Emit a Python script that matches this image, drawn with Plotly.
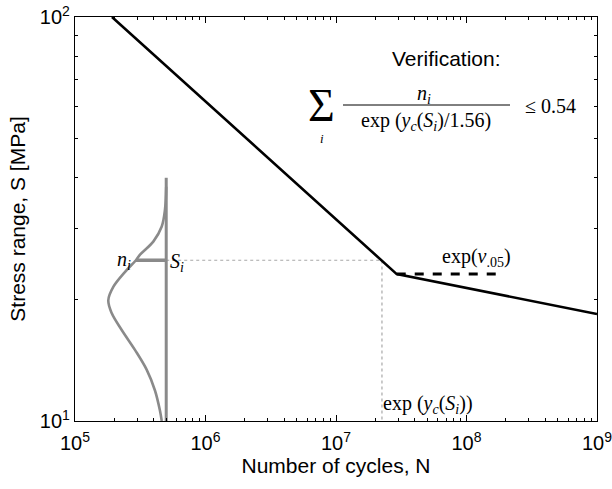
import math
import plotly.graph_objects as go

# ---- data ----
curve_N = [1.92e5, 2.92e7, 1e9]
curve_S = [100, 23.1, 18.4]

dashed_N = [2.92e7, 1.9e8]
dashed_S = [23.1, 23.1]

S_i = 25.0
N_i = 2.25e7
N_block = 5e5
block_S = [10, 40]
n_i_N = 2.93e5

bell_N = [5.0e5, 4.89e5, 4.62e5, 3.98e5, 3.15e5, 2.93e5, 2.42e5, 1.97e5, 1.80e5,
          1.91e5, 2.28e5, 2.88e5, 3.54e5, 4.10e5, 4.48e5, 4.62e5]
bell_S = [38.0, 33.3, 30.3, 27.8, 25.8, 25.0, 23.4, 21.5, 19.9,
          18.5, 16.8, 15.0, 13.4, 11.9, 10.6, 10.0]

x_major = [1e5, 1e6, 1e7, 1e8, 1e9]
x_major_text = ["10<sup>5</sup>", "10<sup>6</sup>", "10<sup>7</sup>", "10<sup>8</sup>", "10<sup>9</sup>"]
y_major = [10, 100]
y_major_text = ["10<sup>1</sup>", "10<sup>2</sup>"]
x_minor = [m * 10 ** e for e in range(5, 9) for m in range(2, 10)]
y_minor = [m * 10 for m in range(2, 10)]

GRAY = "#8a8a8a"
DOT = "#a8a8a8"

fig = go.Figure()
# dotted guide lines
fig.add_trace(go.Scatter(x=[N_block, N_i, N_i], y=[S_i, S_i, block_S[0]], mode="lines",
                         line=dict(color=DOT, width=1.2, dash="dot"), hoverinfo="skip"))
# dashed line
fig.add_trace(go.Scatter(x=dashed_N, y=dashed_S, mode="lines",
                         line=dict(color="black", width=3, dash="dash"), hoverinfo="skip"))
# main S-N curve
fig.add_trace(go.Scatter(x=curve_N, y=curve_S, mode="lines",
                         line=dict(color="black", width=2.6), hoverinfo="skip"))
# gray block
fig.add_trace(go.Scatter(x=[N_block, N_block], y=block_S, mode="lines",
                         line=dict(color=GRAY, width=3), hoverinfo="skip"))
fig.add_trace(go.Scatter(x=bell_N, y=bell_S, mode="lines", line_shape="spline",
                         line=dict(color=GRAY, width=2.6), hoverinfo="skip"))
fig.add_trace(go.Scatter(x=[n_i_N, N_block], y=[S_i, S_i], mode="lines",
                         line=dict(color=GRAY, width=3.5), hoverinfo="skip"))

SERIF = "Liberation Serif"
SANS = "Liberation Sans, Arial"

# data-linked labels (log axes -> log10 coordinates)
fig.add_annotation(x=math.log10(n_i_N) - 0.02, y=math.log10(S_i), xanchor="right", yanchor="middle",
                   text="<i>n</i><sub><i>i</i></sub>", showarrow=False,
                   font=dict(family=SERIF, size=20, color="black"))
fig.add_annotation(x=math.log10(N_block) + 0.01, y=math.log10(S_i) - 0.005, xanchor="left", yanchor="middle",
                   text="<i>S</i><sub><i>i</i></sub>", showarrow=False,
                   font=dict(family=SERIF, size=20, color="black"))
fig.add_annotation(x=8.08, y=math.log10(dashed_S[0]) + 0.005, xanchor="center", yanchor="bottom",
                   text="exp(<i>v</i><sub>.05</sub>)", showarrow=False,
                   font=dict(family=SERIF, size=20, color="black"))
fig.add_annotation(x=math.log10(N_i) - 0.01, y=1.04, xanchor="left", yanchor="middle",
                   text="exp (<i>y</i><sub><i>c</i></sub>(<i>S</i><sub><i>i</i></sub>))", showarrow=False,
                   font=dict(family=SERIF, size=20, color="black"))

# formula box (paper coordinates from pixel targets)
L, R, T, B = 75, 597, 17, 421
def px(x):
    return (x - L) / (R - L)
def py(y):
    return (B - y) / (B - T)

fig.add_annotation(xref="paper", yref="paper", x=px(446), y=py(59), text="Verification:",
                   showarrow=False, xanchor="center", yanchor="middle",
                   font=dict(family=SANS, size=21, color="black"))
fig.add_annotation(xref="paper", yref="paper", x=px(321), y=py(106), text="Σ",
                   showarrow=False, xanchor="center", yanchor="middle",
                   font=dict(family=SERIF, size=46, color="black"))
fig.add_annotation(xref="paper", yref="paper", x=px(322), y=py(138), text="<i>i</i>",
                   showarrow=False, xanchor="center", yanchor="middle",
                   font=dict(family=SERIF, size=13, color="black"))
fig.add_annotation(xref="paper", yref="paper", x=px(424), y=py(95), text="<i>n</i><sub><i>i</i></sub>",
                   showarrow=False, xanchor="center", yanchor="middle",
                   font=dict(family=SERIF, size=20, color="black"))
fig.add_shape(type="line", xref="paper", yref="paper", x0=px(343), x1=px(510), y0=py(105), y1=py(105),
              line=dict(color="black", width=1))
fig.add_annotation(xref="paper", yref="paper", x=px(426), y=py(121),
                   text="exp (<i>y</i><sub><i>c</i></sub>(<i>S</i><sub><i>i</i></sub>)/1.56)",
                   showarrow=False, xanchor="center", yanchor="middle",
                   font=dict(family=SERIF, size=20, color="black"))
fig.add_annotation(xref="paper", yref="paper", x=px(550), y=py(106), text="≤ 0.54",
                   showarrow=False, xanchor="center", yanchor="middle",
                   font=dict(family=SERIF, size=20, color="black"))

axis_common = dict(type="log", showgrid=False, zeroline=False, showline=True, linecolor="black",
                   linewidth=1.2, mirror="allticks", ticks="inside", ticklen=6, tickcolor="black",
                   automargin=False, ticklabeloverflow="allow",
                   tickfont=dict(family=SANS, size=20, color="black"))
fig.update_xaxes(**axis_common, range=[5, 9], tickvals=x_major, ticktext=x_major_text,
                 ticklabelstandoff=4,
                 minor=dict(tickvals=x_minor, ticks="inside", ticklen=3, tickcolor="black", showgrid=False),
                 title=dict(text="Number of cycles, N", font=dict(family=SANS, size=21, color="black"), standoff=4))
fig.update_yaxes(**axis_common, range=[1, 2], tickvals=y_major, ticktext=y_major_text,
                 minor=dict(tickvals=y_minor, ticks="inside", ticklen=3, tickcolor="black", showgrid=False),
                 title=dict(text="Stress range, S [MPa]", font=dict(family=SANS, size=21, color="black"), standoff=8))
fig.update_layout(width=612, height=489, margin=dict(l=75, r=15, t=17, b=68),
                  plot_bgcolor="white", paper_bgcolor="white", showlegend=False)
fig.write_html("out.html", config={"displayModeBar": False},
               post_script="document.body.style.margin='0';document.body.style.overflow='hidden';")
